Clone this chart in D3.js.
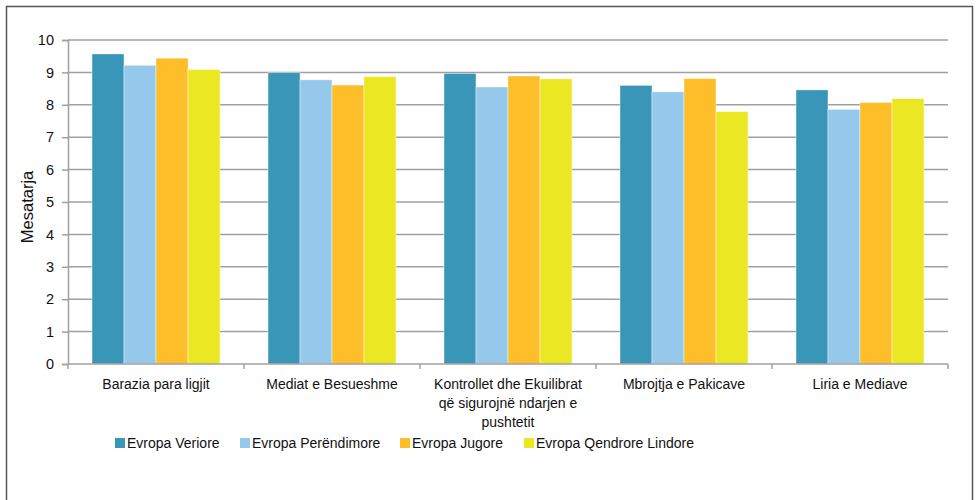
<!DOCTYPE html>
<html>
<head>
<meta charset="utf-8">
<script src="https://cdn.jsdelivr.net/npm/d3@7"></script>
<style>
  body { margin: 0; background: #fff; }
  svg { display: block; font-family: "Liberation Sans", Arial, sans-serif; }
</style>
</head>
<body>
<svg id="chart" width="978" height="500"></svg>
<script>
// categories and series
var categories = ["Barazia para ligjit", "Mediat e Besueshme",
  "Kontrollet dhe Ekuilibrat që sigurojnë ndarjen e pushtetit",
  "Mbrojtja e Pakicave", "Liria e Mediave"];
var seriesNames = ["Evropa Veriore", "Evropa Perëndimore", "Evropa Jugore", "Evropa Qendrore Lindore"];
var veriore     = [9.57, 8.99, 8.97, 8.60, 8.46];
var perendimore = [9.22, 8.77, 8.55, 8.40, 7.86];
var jugore      = [9.44, 8.61, 8.89, 8.81, 8.07];
var qendrore    = [9.09, 8.87, 8.80, 7.79, 8.19];
var yTicks = [0, 1, 2, 3, 4, 5, 6, 7, 8, 9, 10];
var colors = ["#3a96b8", "#95c8ea", "#fdbe2a", "#ebe723"];

var series = [veriore, perendimore, jugore, qendrore];

var svg = d3.select("#chart");

// outer frame
svg.append("rect")
  .attr("x", 6.5).attr("y", 6.5)
  .attr("width", 966).attr("height", 500)
  .attr("fill", "none").attr("stroke", "#555").attr("stroke-width", 1.5);

var plotL = 68, plotR = 948, plotT = 40, plotB = 364;

var x = d3.scaleBand().domain(categories).range([plotL, plotR])
  .paddingInner(0.2727).paddingOuter(0.1364);
var xs = d3.scaleBand().domain(d3.range(series.length)).range([0, x.bandwidth()]);
var y = d3.scaleLinear().domain([0, 10]).range([plotB, plotT]);

// gridlines
svg.append("g").selectAll("line")
  .data(yTicks.filter(function(d) { return d > 0; }))
  .enter().append("line")
  .attr("x1", plotL).attr("x2", plotR)
  .attr("y1", function(d) { return y(d); }).attr("y2", function(d) { return y(d); })
  .attr("stroke", "#a0a0a0").attr("stroke-width", 1.5);

// bars
var groups = svg.append("g").selectAll("g")
  .data(categories).enter().append("g")
  .attr("transform", function(d) { return "translate(" + x(d) + ",0)"; });

groups.selectAll("rect")
  .data(function(d, i) { return series.map(function(s, k) { return {k: k, v: s[i]}; }); })
  .enter().append("rect")
  .attr("x", function(d) { return xs(d.k); })
  .attr("width", xs.bandwidth())
  .attr("y", function(d) { return y(d.v); })
  .attr("height", function(d) { return plotB - y(d.v); })
  .attr("fill", function(d) { return colors[d.k]; })
  .attr("stroke", "#fff").attr("stroke-width", 0.6).attr("stroke-opacity", 0.7);

// y axis
var yAxis = svg.append("g")
  .attr("transform", "translate(" + plotL + ",0)")
  .call(d3.axisLeft(y).tickValues(yTicks).tickSize(6).tickPadding(8).tickFormat(d3.format("d")));
yAxis.select(".domain").attr("stroke", "#a0a0a0").attr("stroke-width", 1.5);
yAxis.selectAll(".tick line").attr("stroke", "#a0a0a0").attr("stroke-width", 1.5);
yAxis.selectAll("text").attr("font-size", 14.5).attr("fill", "#111")
  .attr("font-family", "Liberation Sans, Arial, sans-serif");

// x axis: baseline and boundary ticks
var xStep = x.step();
var bounds = d3.range(categories.length + 1).map(function(i) { return plotL + i * xStep; });
svg.append("line")
  .attr("x1", plotL).attr("x2", plotR).attr("y1", plotB).attr("y2", plotB)
  .attr("stroke", "#a0a0a0").attr("stroke-width", 1.5);
svg.append("g").selectAll("line").data(bounds).enter().append("line")
  .attr("x1", function(d) { return d; }).attr("x2", function(d) { return d; })
  .attr("y1", plotB).attr("y2", plotB + 5)
  .attr("stroke", "#a0a0a0").attr("stroke-width", 1.5);

// category labels, wrapped
var labelLines = {
  "Kontrollet dhe Ekuilibrat që sigurojnë ndarjen e pushtetit":
    ["Kontrollet dhe Ekuilibrat", "që sigurojnë ndarjen e", "pushtetit"]
};
svg.append("g").selectAll("text").data(categories).enter().append("text")
  .attr("x", function(d) { return x(d) + x.bandwidth() / 2; })
  .attr("y", 389)
  .attr("text-anchor", "middle")
  .attr("font-size", 14).attr("fill", "#111")
  .each(function(d) {
    var lines = labelLines[d] || [d];
    var t = d3.select(this);
    lines.forEach(function(l, i) {
      t.append("tspan").attr("x", x(d) + x.bandwidth() / 2).attr("dy", i ? 19 : 0).text(l);
    });
  });

// y title
svg.append("text")
  .attr("transform", "translate(33,207) rotate(-90)")
  .attr("text-anchor", "middle")
  .attr("font-size", 16.5).attr("fill", "#111")
  .text("Mesatarja");

// legend
var legendX = [115, 240, 400, 524];
var legend = svg.append("g").selectAll("g").data(seriesNames).enter().append("g")
  .attr("transform", function(d, i) { return "translate(" + legendX[i] + ",438)"; });
legend.append("rect").attr("width", 10).attr("height", 10)
  .attr("fill", function(d, i) { return colors[i]; });
legend.append("text").attr("x", 12).attr("y", 10)
  .attr("font-size", 14).attr("fill", "#111")
  .text(function(d) { return d; });
</script>
</body>
</html>
